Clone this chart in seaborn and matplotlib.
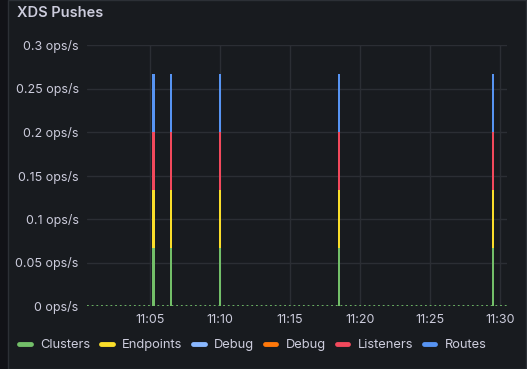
import matplotlib
matplotlib.use("Agg")
import matplotlib.pyplot as plt
import matplotlib.dates as mdates
import pandas as pd
import seaborn as sns
from matplotlib.lines import Line2D
from matplotlib.patches import Rectangle

# push times and per-type rates (ops/s)
push_times = ["11:05:15", "11:06:30", "11:10:00", "11:18:30", "11:29:30"]
series_names = ["Clusters", "Endpoints", "Debug", "Debug", "Listeners", "Routes"]
clusters = [0.0667, 0.0667, 0.0667, 0.0667, 0.0667]
endpoints = [0.0667, 0.0667, 0.0667, 0.0667, 0.0667]
debug_a = [0, 0, 0, 0, 0]
debug_b = [0, 0, 0, 0, 0]
listeners = [0.0667, 0.0667, 0.0667, 0.0667, 0.0667]
routes = [0.0667, 0.0667, 0.0667, 0.0667, 0.0667]
series_colors = ["#73BF69", "#FADE2A", "#8AB8FF", "#FF780A", "#F2495C", "#5794F2"]
x_ticks = ["11:05", "11:10", "11:15", "11:20", "11:25", "11:30"]
y_ticks = [0, 0.05, 0.1, 0.15, 0.2, 0.25, 0.3]
y_labels = ["0 ops/s", "0.05 ops/s", "0.1 ops/s", "0.15 ops/s", "0.2 ops/s", "0.25 ops/s", "0.3 ops/s"]

day = "2024-01-01 "
times = pd.to_datetime([day + t for t in push_times])
values = [clusters, endpoints, debug_a, debug_b, listeners, routes]

BG = "#181b1f"
TEXT = "#ccccdc"
GRID = "#2b2e34"

sns.set_theme(style="dark")
plt.rcParams["font.family"] = ["Inter", "DejaVu Sans"]

fig = plt.figure(figsize=(5.27, 3.69), dpi=100, facecolor="#111217")
fig.patches.append(Rectangle((8 / 527, 0), 518 / 527, 1, transform=fig.transFigure,
                             facecolor=BG, edgecolor="#2c3036", linewidth=1, zorder=-5))
ax = fig.add_axes([87 / 527, 1 - 306 / 369, 420 / 527, 261 / 369])
ax.set_facecolor(BG)

# baseline: series sitting at zero between pushes
baseline = pd.DataFrame({
    "time": pd.to_datetime([day + "11:00:30", day + "11:30:30"]),
    "value": [0, 0],
})
sns.lineplot(data=baseline, x="time", y="value", ax=ax, color="#73BF69",
             linestyle=(0, (1, 1.6)), linewidth=1.3, zorder=2)

width = 0.21 / 1440
bottom = [0.0] * len(times)
for name, vals, color in zip(series_names, values, series_colors):
    ax.bar(times, vals, width=width, bottom=bottom, color=color, linewidth=0, zorder=3)
    bottom = [b + v for b, v in zip(bottom, vals)]

ax.set_xlim(pd.Timestamp(day + "11:00:30"), pd.Timestamp(day + "11:30:30"))
ax.set_ylim(0, 0.3)
ax.set_xticks(pd.to_datetime([day + t for t in x_ticks]))
ax.xaxis.set_major_formatter(mdates.DateFormatter("%H:%M"))
ax.set_yticks(y_ticks)
ax.set_yticklabels(y_labels)
ax.tick_params(colors=TEXT, labelsize=9, length=0, pad=6)
ax.set_xlabel("")
ax.set_ylabel("")
ax.grid(True, color=GRID, linewidth=1)
ax.set_axisbelow(True)
for s in ax.spines.values():
    s.set_visible(False)

fig.text(17 / 527, 1 - 13 / 369, "XDS Pushes", color=TEXT, fontsize=10.5,
         fontweight="semibold", va="center", ha="left")

handles = [Line2D([0], [0], color=c, linewidth=3.5, solid_capstyle="round") for c in series_colors]
leg = fig.legend(handles, series_names, loc="center left", bbox_to_anchor=(14 / 527, 1 - 345 / 369),
                 ncol=6, frameon=False, handlelength=0.9, handletextpad=0.75, columnspacing=0.8,
                 fontsize=9.3, labelcolor=TEXT, borderaxespad=0)

fig.savefig("out.png", dpi=100, facecolor=fig.get_facecolor())
